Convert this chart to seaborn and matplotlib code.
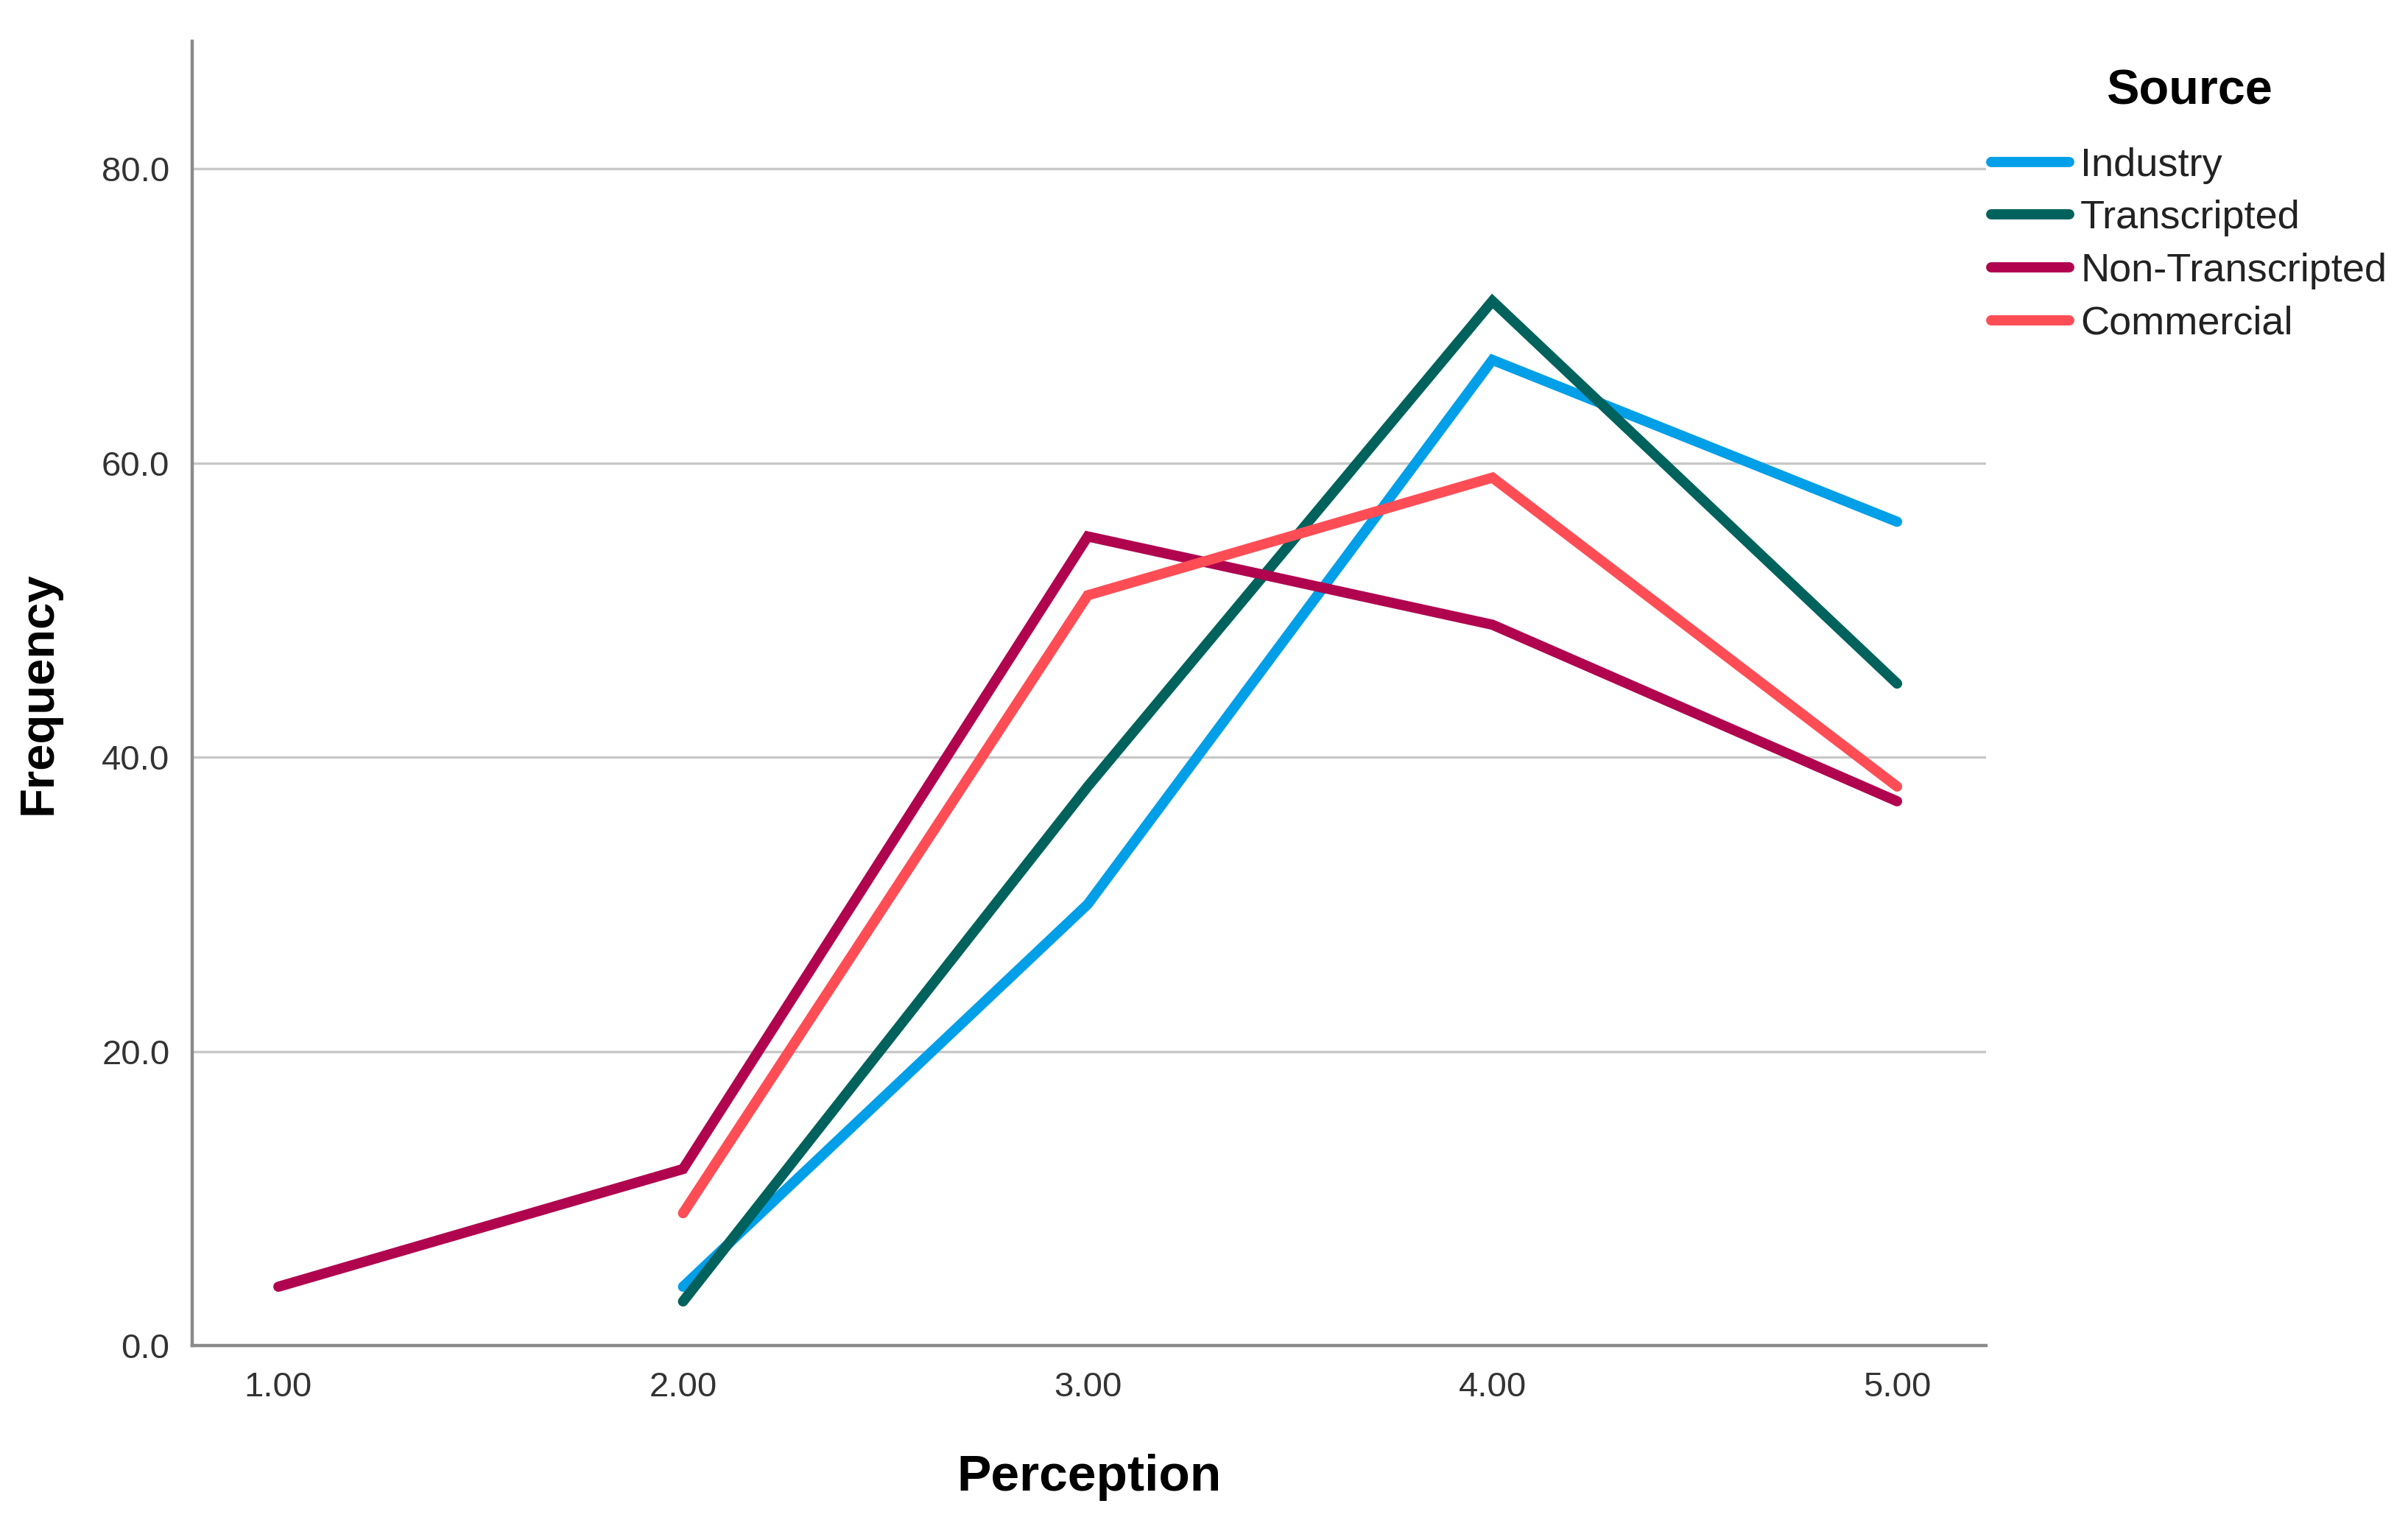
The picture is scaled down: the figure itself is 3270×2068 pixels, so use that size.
import matplotlib
matplotlib.use("Agg")
import matplotlib.pyplot as plt
import seaborn as sns
import pandas as pd

# ---- data ----
sources = ["Industry", "Transcripted", "Non-Transcripted", "Commercial"]
industry_x = [2, 3, 4, 5]
industry_y = [4, 30, 67, 56]
transcripted_x = [2, 3, 4, 5]
transcripted_y = [3, 38, 71, 45]
nontranscripted_x = [1, 2, 3, 4, 5]
nontranscripted_y = [4, 12, 55, 49, 37]
commercial_x = [2, 3, 4, 5]
commercial_y = [9, 51, 59, 38]
x_ticks = [1, 2, 3, 4, 5]
x_tick_labels = ["1.00", "2.00", "3.00", "4.00", "5.00"]
y_ticks = [0, 20, 40, 60, 80]
y_tick_labels = ["0.0", "20.0", "40.0", "60.0", "80.0"]
colors = ["#009fe8", "#00625c", "#b1044f", "#ff4d56"]

rows = []
for name, xs, ys in [("Industry", industry_x, industry_y),
                     ("Transcripted", transcripted_x, transcripted_y),
                     ("Non-Transcripted", nontranscripted_x, nontranscripted_y),
                     ("Commercial", commercial_x, commercial_y)]:
    for xv, yv in zip(xs, ys):
        rows.append({"Perception": xv, "Frequency": yv, "Source": name})
df = pd.DataFrame(rows)

sns.set_theme(style="white")
plt.rcParams["font.family"] = ["Liberation Sans", "DejaVu Sans"]

fig = plt.figure(figsize=(32.7, 20.68), dpi=100)
ax = fig.add_axes([0.0798, 0.1165, 0.745, 0.8564])

sns.lineplot(data=df, x="Perception", y="Frequency", hue="Source",
             hue_order=sources, palette=colors, linewidth=10,
             ax=ax, legend=True)
for ln in ax.get_lines():
    ln.set_solid_capstyle("round")
    ln.set_solid_joinstyle("miter")

ax.set_xlim(0.787, 5.22)
ax.set_ylim(0, 88.66)
ax.set_xticks(x_ticks)
ax.set_xticklabels(x_tick_labels)
ax.set_yticks(y_ticks)
ax.set_yticklabels(y_tick_labels)
ax.tick_params(axis="both", length=0, labelsize=34, colors="#333333")
ax.tick_params(axis="x", pad=25)
ax.tick_params(axis="y", pad=22)

for yv in y_ticks[1:]:
    ax.axhline(yv, color="#c8c8c8", lw=2.4, zorder=0)

for s in ["top", "right"]:
    ax.spines[s].set_visible(False)
for s in ["left", "bottom"]:
    ax.spines[s].set_color("#8a8a8a")
    ax.spines[s].set_linewidth(3.2)

ax.set_xlabel("Perception", fontsize=50, fontweight="bold", labelpad=49, color="black")
ax.set_ylabel("Frequency", fontsize=47, fontweight="bold", labelpad=40, color="black")

handles, labels = ax.get_legend_handles_labels()
leg = ax.legend(handles, labels, title="Source", loc="upper left",
                bbox_to_anchor=(0.827, 0.955), bbox_transform=fig.transFigure,
                frameon=False, fontsize=39, title_fontsize=48,
                handlelength=1.95, handletextpad=0.28, labelspacing=0.4,
                borderpad=0, borderaxespad=0)
leg.get_title().set_fontweight("bold")
leg.get_title().set_color("black")
leg._legend_box.sep = 32
for h in leg.legend_handles:
    h.set_linewidth(10)
    h.set_solid_capstyle("round")
for t in leg.get_texts():
    t.set_color("#222222")

fig.savefig("out.png", dpi=100)
